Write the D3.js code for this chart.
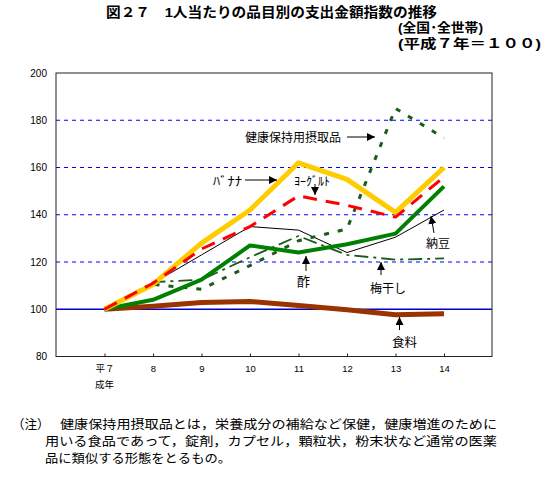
<!DOCTYPE html>
<html><head><meta charset="utf-8">
<script src="https://cdn.jsdelivr.net/npm/d3@7"></script>
<style>body{margin:0;background:#fff}svg{display:block}</style>
</head><body>
<svg id="c" width="545" height="481"></svg>
<script>
const categories = ["平７","8","9","10","11","12","13","14"];
const yTicks = [80,100,120,140,160,180,200];
const banana   = [100,110.5,128,142,162,155,141,160];
const yogurt   = [100,111,125.5,135,148,144,139,156];
const vinegar  = [100,104,112.5,127,124,127.5,132,152];
const natto    = [100,111,123,135,133.5,124,130.5,142];
const health   = [100,110.5,108.5,118.5,129,134,185,172.5];
const umeboshi = [100,111.5,112.5,122,131,123,121,121.5];
const food     = [100,101.3,102.9,103.3,101.6,99.8,97.7,98.1];

const svg = d3.select("#c");
const L=56,R=492,T=73,B=356.5;
const x = d3.scalePoint().domain(categories).range([104.5,444]);
const y = d3.scaleLinear().domain([80,200]).range([B,T]);
const jp = "'Liberation Sans', 'Noto Sans CJK JP', sans-serif";

// title
const title = svg.append("g").attr("font-family",jp).attr("font-weight","bold").attr("fill","#000");
title.append("text").attr("x",106).attr("y",16.5).attr("font-size",13.5)
  .attr("textLength",331).attr("lengthAdjust","spacingAndGlyphs")
  .text("図２７　1人当たりの品目別の支出金額指数の推移");
title.append("text").attr("x",398).attr("y",32).attr("font-size",13)
  .attr("textLength",85).attr("lengthAdjust","spacingAndGlyphs")
  .text("(全国･全世帯)");
title.append("text").attr("x",398).attr("y",47.5).attr("font-size",13)
  .attr("textLength",143).attr("lengthAdjust","spacingAndGlyphs")
  .text("(平成７年＝１００)");

// grid
svg.append("g").selectAll("line").data(yTicks.filter(v=>v>100&&v<200)).join("line")
  .attr("x1",L).attr("x2",R).attr("y1",d=>y(d)).attr("y2",d=>y(d))
  .attr("stroke","#0000ff").attr("stroke-width",1).attr("stroke-dasharray","4,4");
svg.append("line").attr("x1",L).attr("x2",R).attr("y1",y(100)).attr("y2",y(100))
  .attr("stroke","#0000cc").attr("stroke-width",1.3);

// frame
svg.append("rect").attr("x",L).attr("y",T).attr("width",R-L).attr("height",B-T)
  .attr("fill","none").attr("stroke","#222").attr("stroke-width",1);

// y axis
const ya = svg.append("g").attr("transform",`translate(${L},0)`)
  .call(d3.axisLeft(y).tickValues(yTicks).tickSize(0).tickPadding(9));
ya.select(".domain").remove();
ya.selectAll("text").attr("font-family","'Liberation Sans', Arial, sans-serif").attr("font-size",10).attr("fill","#000");

// x axis
const xa = svg.append("g").attr("transform",`translate(0,${B})`)
  .call(d3.axisBottom(x).tickSize(-3).tickPadding(9));
xa.select(".domain").remove();
xa.selectAll("line").attr("stroke","#222");
xa.selectAll("text").attr("font-family",jp).attr("font-size",9.5).attr("fill","#000");
svg.append("text").attr("x",x(categories[0])).attr("y",B+31.5).attr("text-anchor","middle")
  .attr("font-family",jp).attr("font-size",9.5).text("成年");

// lines
const line = d3.line().x((d,i)=>x(categories[i])).y(d=>y(d));
function draw(data,color,w,dash){
  const p = svg.append("path").datum(data).attr("d",line).attr("fill","none")
    .attr("stroke",color).attr("stroke-width",w).attr("stroke-linejoin","round");
  if(dash) p.attr("stroke-dasharray",dash);
  return p;
}
draw(natto,"#000",1);
draw(umeboshi,"#1a5c1a",1.8,"14,5,3,5");
draw(health,"#1a5c1a",3,"5,9");
draw(food,"#993300",5);
draw(vinegar,"#008000",4);
draw(banana,"#ffcc00",5);
draw(yogurt,"#ff0000",3,"14,9");

// arrows
svg.append("defs").append("marker").attr("id","ah").attr("viewBox","0 0 10 10")
  .attr("refX",10).attr("refY",5).attr("markerWidth",8).attr("markerHeight",8)
  .attr("markerUnits","userSpaceOnUse").attr("orient","auto")
  .append("path").attr("d","M0,0L10,5L0,10Z").attr("fill","#000");
function arrow(x1,y1,x2,y2){
  svg.append("line").attr("x1",x1).attr("y1",y1).attr("x2",x2).attr("y2",y2)
    .attr("stroke","#000").attr("stroke-width",1).attr("marker-end","url(#ah)");
}
function label(t,xx,yy,size,len){
  const e = svg.append("text").attr("x",xx).attr("y",yy).attr("font-family",jp).attr("font-size",size||12)
    .attr("fill","#000").text(t);
  if(len) e.attr("textLength",len).attr("lengthAdjust","spacingAndGlyphs");
}
label("健康保持用摂取品",245,142,12);
arrow(347,137,375,137);
label("ﾊﾞﾅﾅ",213,186,12,29);
arrow(245,180,277,180);
label("ﾖｰｸﾞﾙﾄ",294,186,12,36);
arrow(315,184,315,195);
label("酢",297,286,13);
arrow(306,271,306,256);
label("梅干し",370,293,12);
arrow(381,275,381,262);
label("納豆",426,248,12);
arrow(434,233,431,216);
label("食料",392,347,12.5);
arrow(399.5,330,399.5,317);

// note
const note = svg.append("g").attr("font-family",jp).attr("font-size",12.5).attr("fill","#000");
note.append("text").attr("x",12).attr("y",429).text("（注）");
note.append("text").attr("x",60).attr("y",429).attr("textLength",437).attr("lengthAdjust","spacingAndGlyphs")
  .text("健康保持用摂取品とは，栄養成分の補給など保健，健康増進のために");
note.append("text").attr("x",45).attr("y",446).attr("textLength",452).attr("lengthAdjust","spacingAndGlyphs")
  .text("用いる食品であって，錠剤，カプセル，顆粒状，粉末状など通常の医薬");
note.append("text").attr("x",45).attr("y",462.5).attr("textLength",186).attr("lengthAdjust","spacingAndGlyphs")
  .text("品に類似する形態をとるもの。");
</script>
</body></html>
